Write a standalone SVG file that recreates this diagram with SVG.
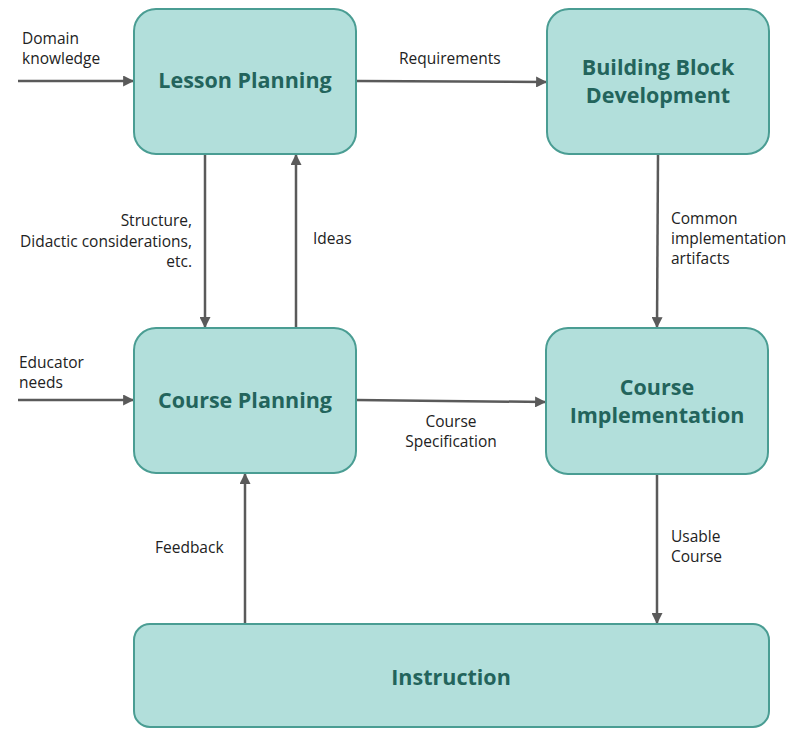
<svg xmlns="http://www.w3.org/2000/svg" width="789" height="729" viewBox="0 0 789 729">
  <style>
    .box { fill: #b2dfdb; stroke: #4a9d93; stroke-width: 2; }
    .title { font-family: "Open Sans", "Liberation Sans", sans-serif; font-weight: bold; font-size: 21.5px; fill: #23645c; text-anchor: middle; }
    .lbl { font-family: "Open Sans", "Liberation Sans", sans-serif; font-size: 15.5px; fill: #222222; }
    .wire { stroke: #5a5a5a; stroke-width: 2.5; fill: none; marker-end: url(#head); }
  </style>
  <defs>
    <marker id="head" viewBox="0 0 10 10" refX="9" refY="5" markerWidth="4.4" markerHeight="4.4" markerUnits="strokeWidth" orient="auto">
      <path d="M0,0 L10,5 L0,10 Z" fill="#5a5a5a"/>
    </marker>
  </defs>
  <rect width="789" height="729" fill="#ffffff"/>

  <g id="connectors">
    <line class="wire" x1="18" y1="81" x2="133" y2="81"/>
    <line class="wire" x1="356" y1="81" x2="546" y2="82"/>
    <line class="wire" x1="205" y1="154" x2="205" y2="327"/>
    <line class="wire" x1="296" y1="328" x2="296" y2="155"/>
    <line class="wire" x1="18" y1="400" x2="133" y2="400"/>
    <line class="wire" x1="356" y1="400" x2="545" y2="402"/>
    <line class="wire" x1="658" y1="155" x2="657" y2="327"/>
    <line class="wire" x1="657" y1="474" x2="657" y2="623"/>
    <line class="wire" x1="245" y1="624" x2="245" y2="474"/>
  </g>

  <g id="lesson-planning">
    <rect class="box" x="134" y="9" width="222" height="145" rx="22"/>
    <text class="title" x="245" y="88">Lesson Planning</text>
  </g>
  <g id="building-block-development">
    <rect class="box" x="547" y="9" width="222" height="145" rx="22"/>
    <text class="title" x="658" y="75">Building Block</text>
    <text class="title" x="658" y="103">Development</text>
  </g>
  <g id="course-planning">
    <rect class="box" x="134" y="328" width="222" height="145" rx="22"/>
    <text class="title" x="245" y="408">Course Planning</text>
  </g>
  <g id="course-implementation">
    <rect class="box" x="546" y="328" width="222" height="146" rx="22"/>
    <text class="title" x="657" y="395">Course</text>
    <text class="title" x="657" y="423">Implementation</text>
  </g>
  <g id="instruction">
    <rect class="box" x="134" y="624" width="635" height="103" rx="16"/>
    <text class="title" x="451" y="685">Instruction</text>
  </g>

  <g id="labels">
    <text class="lbl" x="22" y="44">Domain</text>
    <text class="lbl" x="22" y="64">knowledge</text>
    <text class="lbl" x="399" y="64">Requirements</text>
    <text class="lbl" x="192" y="226" text-anchor="end">Structure,</text>
    <text class="lbl" x="192" y="247" text-anchor="end">Didactic considerations,</text>
    <text class="lbl" x="192" y="267" text-anchor="end">etc.</text>
    <text class="lbl" x="313" y="244">Ideas</text>
    <text class="lbl" x="19" y="368">Educator</text>
    <text class="lbl" x="19" y="388">needs</text>
    <text class="lbl" x="451" y="427" text-anchor="middle">Course</text>
    <text class="lbl" x="451" y="447" text-anchor="middle">Specification</text>
    <text class="lbl" x="671" y="224">Common</text>
    <text class="lbl" x="671" y="244">implementation</text>
    <text class="lbl" x="671" y="264">artifacts</text>
    <text class="lbl" x="155" y="553">Feedback</text>
    <text class="lbl" x="671" y="542">Usable</text>
    <text class="lbl" x="671" y="562">Course</text>
  </g>
</svg>
